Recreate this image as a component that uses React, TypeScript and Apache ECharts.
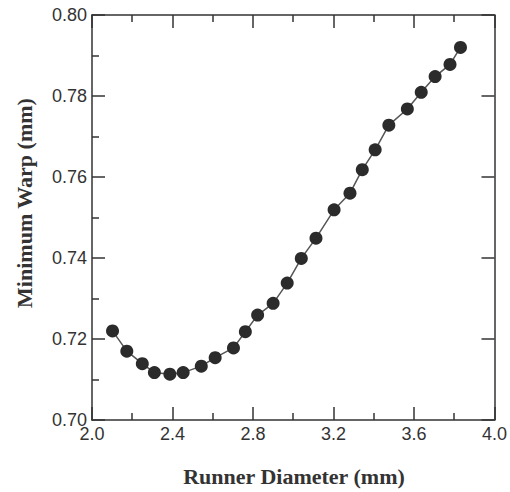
import React, { useEffect, useRef } from "react";
import * as echarts from "echarts";

const diameters = [
  2.102, 2.173, 2.25, 2.31, 2.387, 2.453, 2.543, 2.612, 2.703, 2.762, 2.823, 2.9, 2.97,
  3.04, 3.113, 3.203, 3.282, 3.343, 3.407, 3.475, 3.567, 3.636, 3.705, 3.779, 3.831,
];
const warps = [
  0.722, 0.717, 0.7139, 0.7117, 0.7113, 0.7117, 0.7133, 0.7154, 0.7178, 0.7218, 0.7259, 0.7288,
  0.7338, 0.7399, 0.7449, 0.7519, 0.756, 0.7618, 0.7667, 0.7728, 0.7768, 0.7809, 0.7848, 0.7878,
  0.792,
];
const xTitle = "Runner Diameter (mm)";
const yTitle = "Minimum Warp (mm)";

export default function App() {
  const ref = useRef<HTMLDivElement>(null);
  useEffect(() => {
    if (!ref.current) return;
    const chart = echarts.init(ref.current, null, { renderer: "svg" });
    const axisColor = "#333";
    const lineStyle = { color: axisColor, width: 1.5 };
    const labelStyle = {
      color: "#333",
      fontFamily: "Liberation Sans, Arial, sans-serif",
      fontSize: 18,
    };
    chart.setOption({
      animation: false,
      backgroundColor: "#fff",
      grid: { left: 92, top: 15, right: 13, bottom: 72 },
      xAxis: [
        {
          type: "value",
          position: "bottom",
          min: 2.0,
          max: 4.0,
          interval: 0.4,
          axisLine: { show: true, onZero: false, lineStyle },
          axisTick: { show: true, inside: true, length: 13, lineStyle },
          minorTick: { show: true, splitNumber: 2, length: 7, lineStyle },
          splitLine: { show: false },
          axisLabel: {
            ...labelStyle,
            margin: 5,
            formatter: (v: number) => v.toFixed(1),
          },
        },
        {
          type: "value",
          position: "top",
          min: 2.0,
          max: 4.0,
          interval: 0.4,
          axisLine: { show: true, onZero: false, lineStyle },
          axisTick: { show: true, inside: true, length: 13, lineStyle },
          minorTick: { show: true, splitNumber: 2, length: 7, lineStyle },
          splitLine: { show: false },
          axisLabel: { show: false },
        },
      ],
      yAxis: [
        {
          type: "value",
          position: "left",
          min: 0.7,
          max: 0.8,
          interval: 0.02,
          axisLine: { show: true, onZero: false, lineStyle },
          axisTick: { show: true, inside: true, length: 13, lineStyle },
          minorTick: { show: true, splitNumber: 2, length: 7, lineStyle },
          splitLine: { show: false },
          axisLabel: {
            ...labelStyle,
            margin: 5,
            formatter: (v: number) => v.toFixed(2),
          },
        },
        {
          type: "value",
          position: "right",
          min: 0.7,
          max: 0.8,
          interval: 0.02,
          axisLine: { show: true, onZero: false, lineStyle },
          axisTick: { show: true, inside: true, length: 13, lineStyle },
          splitLine: { show: false },
          axisLabel: { show: false },
        },
      ],
      graphic: [
        {
          type: "text",
          x: 294,
          y: 476,
          style: {
            text: xTitle,
            align: "center",
            verticalAlign: "middle",
            fill: "#333",
            font: "bold 22px 'Liberation Serif', 'Times New Roman', serif",
          },
        },
        {
          type: "text",
          x: 24,
          y: 203,
          rotation: Math.PI / 2,
          style: {
            text: yTitle,
            align: "center",
            verticalAlign: "middle",
            fill: "#333",
            font: "bold 22px 'Liberation Serif', 'Times New Roman', serif",
          },
        },
      ],
      series: [
        {
          type: "line",
          xAxisIndex: 0,
          yAxisIndex: 0,
          data: diameters.map((d, i) => [d, warps[i]]),
          symbol: "circle",
          symbolSize: 13,
          showSymbol: true,
          lineStyle: { color: "#555", width: 1.5 },
          itemStyle: { color: "#2b2b2b", borderWidth: 0 },
        },
      ],
    });
    return () => chart.dispose();
  }, []);
  return (
    <div
      ref={ref}
      style={{ position: "fixed", left: 0, top: 0, width: 510, height: 492 }}
    />
  );
}
